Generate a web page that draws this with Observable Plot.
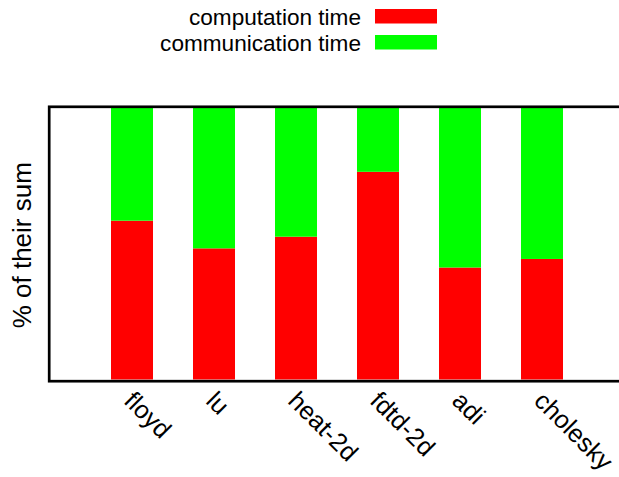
<!DOCTYPE html>
<html>
<head>
<meta charset="utf-8">
<script src="https://cdn.jsdelivr.net/npm/d3@7"></script>
<script src="https://cdn.jsdelivr.net/npm/@observablehq/plot@0.6"></script>
<style>
  html, body { margin: 0; padding: 0; background: #fff; }
  #chart { position: relative; width: 619px; height: 477px; overflow: hidden; }
</style>
</head>
<body>
<div id="chart"></div>
<script>
const categories = ["floyd", "lu", "heat-2d", "fdtd-2d", "adi", "cholesky"];
const computation = [0.585, 0.483, 0.526, 0.765, 0.4125, 0.444];
const communication = computation.map(v => 1 - v);
const seriesNames = ["computation time", "communication time"];
const seriesColors = ["#ff0000", "#00ff00"];
const yLabel = "% of their sum";

const rows = [];
categories.forEach((c, i) => {
  rows.push({cat: c, type: seriesNames[0], value: computation[i]});
  rows.push({cat: c, type: seriesNames[1], value: communication[i]});
});

const font = "Liberation Sans, Arial, Helvetica, sans-serif";

const chart = Plot.plot({
  width: 619,
  height: 477,
  marginTop: 108,
  marginBottom: 97.5,
  marginLeft: 48.7,
  marginRight: -20,
  style: {fontFamily: font, background: "white", overflow: "hidden"},
  x: {type: "band", domain: categories, range: [89.8, 584.2], paddingInner: 0.49, paddingOuter: 0.245, axis: null},
  y: {domain: [0, 1], axis: null},
  color: {domain: seriesNames, range: seriesColors},
  marks: [
    Plot.barY(rows, {x: "cat", y: "value", fill: "type", order: seriesNames}),
    Plot.frame({stroke: "black", strokeWidth: 2.7, insetTop: -1.7, insetBottom: -1.2}),
    Plot.text(categories, {x: d => d, frameAnchor: "bottom", rotate: 45, textAnchor: "start", lineAnchor: "top", dy: 9.5, dx: 3, fontSize: 25.3, fill: "black"}),
    Plot.text([yLabel], {text: d => d, frameAnchor: "left", dx: -18.7, dy: 1, rotate: -90, textAnchor: "middle", lineAnchor: "bottom", fontSize: 26, fill: "black"})
  ]
});

document.getElementById("chart").appendChild(chart);

const svg = d3.select(chart.tagName.toLowerCase() === "svg" ? chart : chart.querySelector("svg"));

const legend = svg.append("g").attr("font-family", font).attr("font-size", 22.6);
const legendY = [25, 51];
const swatchY = [9, 35];
seriesNames.forEach((name, i) => {
  legend.append("text").attr("x", 361).attr("y", legendY[i]).attr("text-anchor", "end").attr("fill", "black").text(name);
  legend.append("rect").attr("x", 375).attr("y", swatchY[i]).attr("width", 62).attr("height", 14.5).attr("fill", seriesColors[i]);
});
</script>
</body>
</html>
